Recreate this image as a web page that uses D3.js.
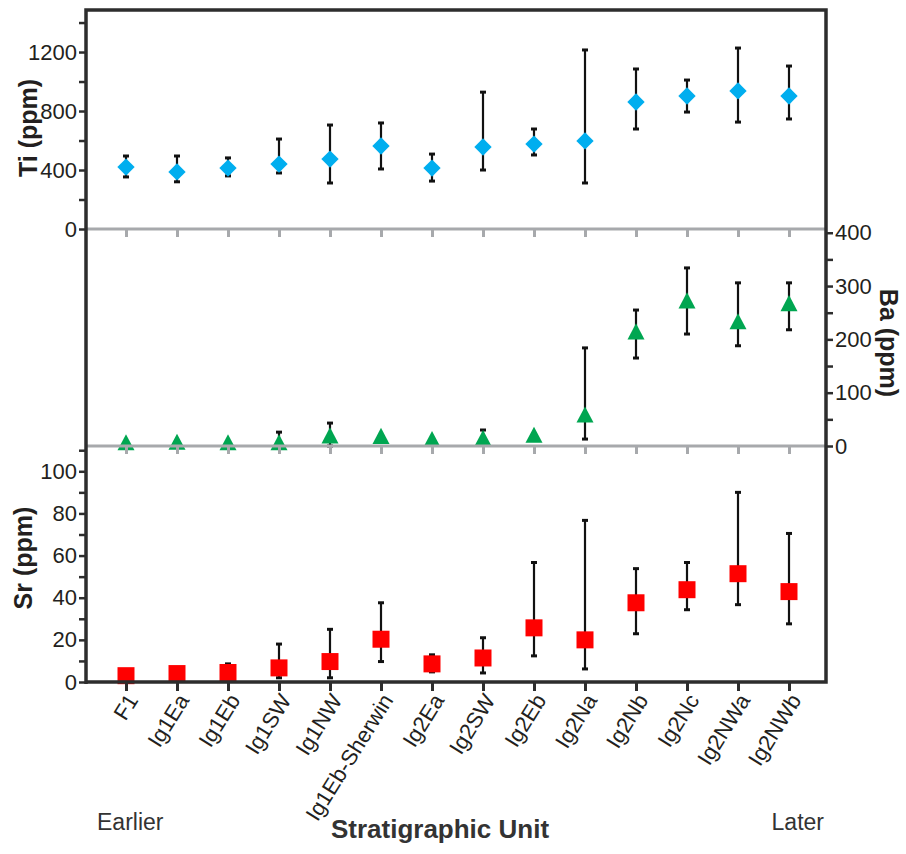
<!DOCTYPE html>
<html>

<head>
    <meta charset="UTF-8">
    <style>
        body { margin: 0; background: #fff; }
        svg text { font-family: "Liberation Sans", Arial, sans-serif; fill: #231f20; }
    </style>
</head>

<body>
    <svg></svg>
    <script src="https://d3js.org/d3.v7.min.js"></script>

    <script>

        let width = 906, height = 854;

        // categories (oldest -> youngest)
        const units = ["F1", "Ig1Ea", "Ig1Eb", "Ig1SW", "Ig1NW", "Ig1Eb-Sherwin", "Ig2Ea",
            "Ig2SW", "Ig2Eb", "Ig2Na", "Ig2Nb", "Ig2Nc", "Ig2NWa", "Ig2NWb"];

        // Ti (ppm)
        const tiMean = [420, 387, 413, 440, 474, 563, 413, 556, 576, 597, 861, 902, 936, 902];
        const tiLow = [353, 320, 360, 380, 312, 407, 325, 400, 502, 312, 678, 793, 725, 746];
        const tiHigh = [495, 495, 482, 610, 705, 719, 508, 928, 678, 1214, 1085, 1010, 1227, 1105];

        // Ba (ppm), null = no error bar drawn
        const baMean = [2, 3, 2, 2, 15, 14, 8, 10, 16, 54, 210, 268, 229, 263];
        const baLow = [null, null, null, 0, 0, null, null, null, null, 13, 165, 210, 188, 218];
        const baHigh = [null, null, null, 26, 43, null, null, 30, null, 184, 255, 334, 306, 306];

        // Sr (ppm)
        const srMean = [3, 4, 4.5, 6.7, 9.7, 20.3, 8.6, 11.4, 25.7, 20, 37.6, 43.8, 51.4, 42.9];
        const srLow = [null, null, null, 2, 2, 9.7, 4.8, 4.3, 12.4, 6.2, 22.9, 34.3, 36.7, 27.6];
        const srHigh = [null, null, 8.6, 18, 25, 37.6, 12.9, 21, 56.7, 76.7, 53.8, 56.7, 90, 70.5];

        const tiTicks = [0, 400, 800, 1200], tiMinor = [200, 600, 1000, 1400];
        const baTicks = [0, 100, 200, 300, 400], baMinor = [50, 150, 250, 350];
        const srTicks = [0, 20, 40, 60, 80, 100], srMinor = [10, 30, 50, 70, 90, 110];

        let svg = d3.select("svg")
            .attr("width", width)
            .attr("height", height);

        // frame
        const fLeft = 86, fRight = 826, fTop = 10, sep1 = 229, sep2 = 446, fBottom = 682;

        const x = d3.scalePoint().domain(units).range([126, 789]);
        const yTi = d3.scaleLinear().domain([0, 1485]).range([sep1, fTop]);
        const yBa = d3.scaleLinear().domain([0, 407]).range([sep2, sep1]);
        const ySr = d3.scaleLinear().domain([0, 112]).range([fBottom, sep2]);

        const panels = [
            { y: yTi, mean: tiMean, lo: tiLow, hi: tiHigh, shape: "diamond", color: "#00aeef" },
            { y: yBa, mean: baMean, lo: baLow, hi: baHigh, shape: "triangle", color: "#00a651" },
            { y: ySr, mean: srMean, lo: srLow, hi: srHigh, shape: "square", color: "#ff0000" }
        ];

        // custom marker shapes
        const diamond = { draw(c, s) { const r = Math.sqrt(s) / 2; c.moveTo(0, -r); c.lineTo(r, 0); c.lineTo(0, r); c.lineTo(-r, 0); c.closePath(); } };
        const triangle = { draw(c, s) { const w = Math.sqrt(s), h = w * 0.95; c.moveTo(0, -h * 2 / 3); c.lineTo(w / 2, h / 3); c.lineTo(-w / 2, h / 3); c.closePath(); } };
        const square = { draw(c, s) { const r = Math.sqrt(s) / 2; c.rect(-r, -r, 2 * r, 2 * r); } };
        const shapes = { diamond: d3.symbol(diamond, 300), triangle: d3.symbol(triangle, 289), square: d3.symbol(square, 289) };

        let marks = svg.append("g").attr("class", "marks");

        panels.forEach(p => {
            let g = marks.append("g");
            let idx = d3.range(units.length);

            // error bars
            idx.forEach(i => {
                let hi = p.hi[i], lo = p.lo[i];
                if (hi == null && lo == null) return;
                let yh = p.y(hi == null ? p.mean[i] : hi);
                let yl = p.y(lo == null ? p.mean[i] : lo);
                let cx = x(units[i]);
                g.append("line")
                    .attr("x1", cx).attr("x2", cx)
                    .attr("y1", yh).attr("y2", yl)
                    .attr("stroke", "#111").attr("stroke-width", 2.2);
                [[hi, yh], [lo, yl]].forEach(([v, yy]) => {
                    if (v == null) return;
                    g.append("line")
                        .attr("x1", cx - 3).attr("x2", cx + 3)
                        .attr("y1", yy).attr("y2", yy)
                        .attr("stroke", "#111").attr("stroke-width", 3);
                });
            });

            g.selectAll("path.pt")
                .data(idx)
                .enter()
                .append("path")
                .attr("class", "pt")
                .attr("d", shapes[p.shape])
                .attr("transform", i => "translate(" + x(units[i]) + "," + p.y(p.mean[i]) + ")")
                .attr("fill", p.color);
        });

        // grey separators with small ticks
        [sep1, sep2].forEach(yy => {
            let g = svg.append("g").attr("transform", "translate(0," + yy + ")")
                .call(d3.axisBottom(x).tickSize(8).tickFormat(""));
            g.select(".domain").remove();
            g.selectAll(".tick line").attr("stroke", "#a7a9ac").attr("stroke-width", 3);
            svg.append("line")
                .attr("x1", fLeft).attr("x2", fRight)
                .attr("y1", yy).attr("y2", yy)
                .attr("stroke", "#a7a9ac").attr("stroke-width", 3);
        });

        // bottom axis
        let xAxis = svg.append("g").attr("transform", "translate(0," + fBottom + ")")
            .call(d3.axisBottom(x).tickSize(9).tickFormat(""));
        xAxis.select(".domain").remove();
        xAxis.selectAll(".tick line").attr("stroke", "#2d2d2d").attr("stroke-width", 3);

        xAxis.selectAll(".tick")
            .append("text")
            .attr("transform", "translate(6,14) rotate(-58)")
            .attr("text-anchor", "end")
            .attr("dy", "0.35em")
            .style("font-size", "22px")
            .text(d => d);

        // y axes
        function yAxis(axisFn, scale, major, minor, xPos) {
            let g = svg.append("g").attr("transform", "translate(" + xPos + ",0)");
            g.append("g").call(axisFn(scale).tickValues(minor).tickSize(7).tickFormat(""));
            g.append("g").call(axisFn(scale).tickValues(major).tickSize(7).tickPadding(2).tickFormat(d3.format("d")));
            g.selectAll("g").attr("font-family", null).attr("font-size", null);
            g.selectAll(".domain").remove();
            g.selectAll(".tick line").attr("stroke", "#2d2d2d").attr("stroke-width", 2.5);
            g.selectAll(".tick text").style("font-size", "22px");
        }
        yAxis(d3.axisLeft, yTi, tiTicks, tiMinor, fLeft);
        yAxis(d3.axisLeft, ySr, srTicks, srMinor, fLeft);
        yAxis(d3.axisRight, yBa, baTicks, baMinor, fRight);

        // outer frame
        svg.append("path")
            .attr("d", "M" + fLeft + "," + (fBottom + 2) + "V" + fTop + "H" + fRight + "V" + fBottom + "H" + fLeft)
            .attr("fill", "none")
            .attr("stroke", "#2d2d2d")
            .attr("stroke-width", 3.5);

        // titles
        svg.append("text")
            .attr("transform", "translate(37,128) rotate(-90)")
            .attr("text-anchor", "middle")
            .style("font-size", "25px").style("font-weight", "bold")
            .text("Ti (ppm)");
        svg.append("text")
            .attr("transform", "translate(32,558) rotate(-90)")
            .attr("text-anchor", "middle")
            .style("font-size", "25px").style("font-weight", "bold")
            .text("Sr (ppm)");
        svg.append("text")
            .attr("transform", "translate(880,343) rotate(90)")
            .attr("text-anchor", "middle")
            .style("font-size", "25px").style("font-weight", "bold")
            .text("Ba (ppm)");

        svg.append("text")
            .attr("x", 440).attr("y", 838)
            .attr("text-anchor", "middle")
            .style("font-size", "26px").style("font-weight", "bold")
            .style("fill", "#333")
            .text("Stratigraphic Unit");
        svg.append("text")
            .attr("x", 97).attr("y", 830)
            .style("font-size", "23px").style("fill", "#333")
            .text("Earlier");
        svg.append("text")
            .attr("x", 824).attr("y", 830)
            .attr("text-anchor", "end")
            .style("font-size", "23px").style("fill", "#333")
            .text("Later");
    </script>

</body>

</html>
